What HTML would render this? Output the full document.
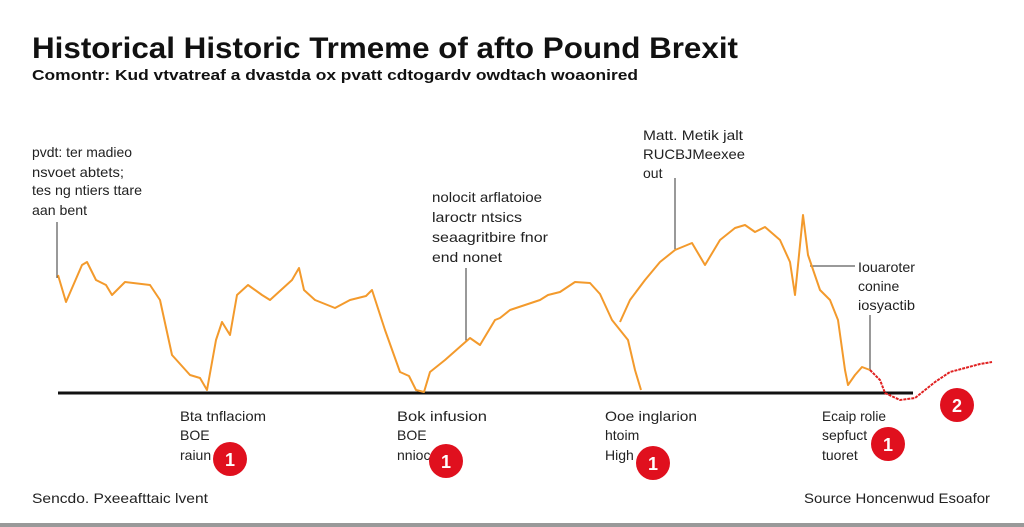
<!DOCTYPE html>
<html><head><meta charset="utf-8"><style>
body{margin:0;background:#fff;width:1024px;height:527px;overflow:hidden;font-family:"Liberation Sans",sans-serif;}
svg{position:absolute;left:0;top:0}
</style></head><body>
<svg width="1024" height="527" viewBox="0 0 1024 527">
<rect width="1024" height="527" fill="#fff"/>
<text x="32" y="58" font-size="30" font-weight="bold" fill="#111" textLength="706" lengthAdjust="spacingAndGlyphs">Historical Historic Trmeme of afto  Pound Brexit</text>
<text x="32" y="80" font-size="15" font-weight="bold" fill="#111" textLength="606" lengthAdjust="spacingAndGlyphs">Comontr: Kud vtvatreaf a dvastda ox pvatt cdtogardv owdtach woaonired</text>
<g font-size="14" fill="#222" font-stretch="condensed">
<text x="32" y="157" textLength="100" lengthAdjust="spacingAndGlyphs">pvdt: ter madieo</text>
<text x="32" y="177" textLength="92" lengthAdjust="spacingAndGlyphs">nsvoet abtets;</text>
<text x="32" y="195" textLength="110" lengthAdjust="spacingAndGlyphs">tes ng ntiers ttare</text>
<text x="32" y="215" textLength="55" lengthAdjust="spacingAndGlyphs">aan bent</text>
<text x="432" y="202" textLength="110" lengthAdjust="spacingAndGlyphs">nolocit arflatoioe</text>
<text x="432" y="222" textLength="90" lengthAdjust="spacingAndGlyphs">laroctr ntsics</text>
<text x="432" y="242" textLength="116" lengthAdjust="spacingAndGlyphs">seaagritbire fnor</text>
<text x="432" y="262" textLength="70" lengthAdjust="spacingAndGlyphs">end nonet</text>
<text x="643" y="140" textLength="100" lengthAdjust="spacingAndGlyphs">Matt. Metik jalt</text>
<text x="643" y="159" textLength="102" lengthAdjust="spacingAndGlyphs">RUCBJMeexee</text>
<text x="643" y="178">out</text>
<text x="858" y="272" textLength="57" lengthAdjust="spacingAndGlyphs">Iouaroter</text>
<text x="858" y="291">conine</text>
<text x="858" y="310" textLength="57" lengthAdjust="spacingAndGlyphs">iosyactib</text>
<text x="180" y="421" textLength="86" lengthAdjust="spacingAndGlyphs">Bta tnflaciom</text><text x="180" y="440">BOE</text><text x="180" y="460">raiun</text>
<text x="397" y="421" textLength="90" lengthAdjust="spacingAndGlyphs">Bok infusion</text><text x="397" y="440">BOE</text><text x="397" y="460">nnioc</text>
<text x="605" y="421" textLength="92" lengthAdjust="spacingAndGlyphs">Ooe inglarion</text><text x="605" y="440">htoim</text><text x="605" y="460">High</text>
<text x="822" y="421" textLength="64" lengthAdjust="spacingAndGlyphs">Ecaip rolie</text><text x="822" y="440">sepfuct</text><text x="822" y="460">tuoret</text>
<text x="32" y="503" textLength="176" lengthAdjust="spacingAndGlyphs">Sencdo. Pxeeafttaic lvent</text>
<text x="804" y="503" textLength="186" lengthAdjust="spacingAndGlyphs">Source Honcenwud Esoafor</text>
</g>
<g stroke="#333" stroke-width="1">
<line x1="57" y1="222" x2="57" y2="278"/><line x1="466" y1="268" x2="466" y2="342"/>
<line x1="675" y1="178" x2="675" y2="250"/><line x1="810" y1="266" x2="855" y2="266"/>
<line x1="870" y1="315" x2="870" y2="370"/>
</g>
<line x1="58" y1="393" x2="913" y2="393" stroke="#111" stroke-width="3"/>
<g fill="none" stroke="#f39a2c" stroke-width="2" stroke-linejoin="round">
<polyline points="58,275 66,302 82,265 87,262 96,280 106,285 112,295 125,282 150,285 160,300 172,355 190,375 200,378 207,390 216,340 222,322 230,335 237,295 248,285 262,295 270,300 292,280 299,268 304,290 315,300 335,308 350,300 366,296 372,290 385,330 400,372 409,376 416,390 424,392 430,372 445,360 462,345 470,338 480,345 495,320 500,318 510,310 525,305 540,300 548,295 560,292 575,282 590,283 600,294 612,320 628,340 635,370 641,390"/>
<polyline points="620,322 630,300 645,280 660,262 675,250 692,243 705,265 720,240 735,228 745,225 755,232 765,227 780,240 790,262 795,295 803,215 808,255 820,290 830,300 838,320 845,370 848,385 855,375 862,367 870,370"/>
</g>
<polyline fill="none" stroke="#e02020" stroke-width="2" stroke-dasharray="3,1" points="870,370 880,380 885,393 900,400 915,398 935,382 950,372 965,368 980,364 992,362"/>
<g font-size="18" font-weight="bold" fill="#fff" text-anchor="middle">
<circle cx="230" cy="459" r="17" fill="#e0101e"/><text x="230" y="466">1</text>
<circle cx="446" cy="461" r="17" fill="#e0101e"/><text x="446" y="468">1</text>
<circle cx="653" cy="463" r="17" fill="#e0101e"/><text x="653" y="470">1</text>
<circle cx="888" cy="444" r="17" fill="#e0101e"/><text x="888" y="451">1</text>
<circle cx="957" cy="405" r="17" fill="#e0101e"/><text x="957" y="412">2</text>
</g>
<rect x="0" y="523" width="1024" height="4" fill="#999"/>
</svg>
</body></html>
